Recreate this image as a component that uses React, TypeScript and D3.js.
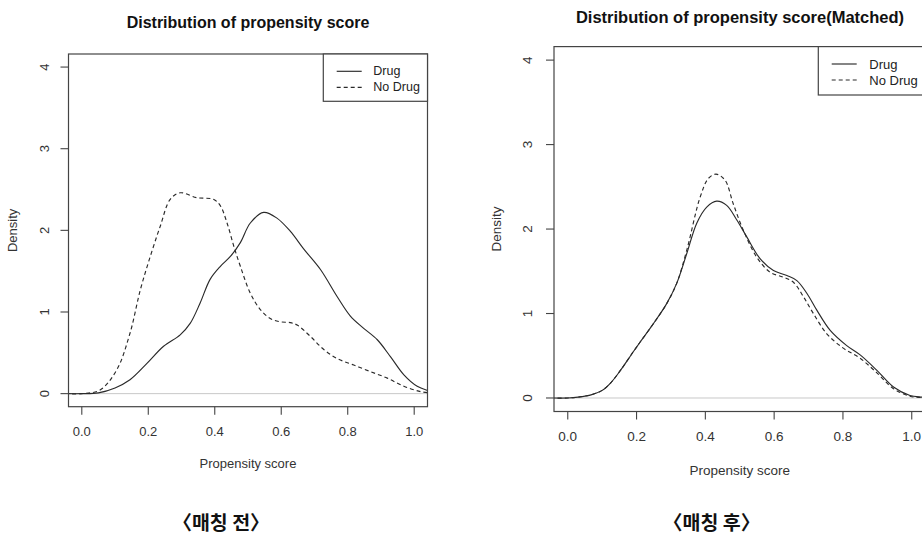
import React from "react";
import * as d3 from "d3";

// ---------- data ----------
const seriesNames = ["Drug", "No Drug"];
const xTicks = [0.0, 0.2, 0.4, 0.6, 0.8, 1.0];
const yTicks = [0, 1, 2, 3, 4];

// Before matching
const beforeDrugX = [-0.05, 0.0, 0.05, 0.10, 0.145, 0.196, 0.246, 0.296, 0.326, 0.356, 0.386, 0.417, 0.447, 0.477, 0.507, 0.547, 0.587, 0.627, 0.668, 0.718, 0.768, 0.808, 0.848, 0.889, 0.929, 0.969, 1.009, 1.04, 1.06];
const beforeDrugY = [0, 0.0, 0.01, 0.07, 0.17, 0.37, 0.58, 0.72, 0.86, 1.11, 1.40, 1.56, 1.68, 1.85, 2.09, 2.22, 2.15, 1.99, 1.77, 1.52, 1.19, 0.95, 0.80, 0.66, 0.45, 0.23, 0.09, 0.04, 0.02];
const beforeNoDrugX = [-0.05, 0.0, 0.055, 0.105, 0.145, 0.176, 0.206, 0.236, 0.266, 0.296, 0.346, 0.396, 0.417, 0.437, 0.457, 0.477, 0.507, 0.537, 0.567, 0.597, 0.627, 0.648, 0.688, 0.728, 0.768, 0.818, 0.868, 0.919, 0.969, 1.019, 1.06];
const beforeNoDrugY = [0, 0.0, 0.045, 0.29, 0.74, 1.27, 1.68, 2.05, 2.38, 2.46, 2.40, 2.38, 2.30, 2.09, 1.81, 1.56, 1.23, 1.03, 0.92, 0.88, 0.87, 0.84, 0.70, 0.54, 0.43, 0.35, 0.27, 0.19, 0.09, 0.025, 0.005];

// After matching
const afterDrugX = [-0.05, 0.0, 0.03, 0.07, 0.10, 0.125, 0.152, 0.191, 0.21, 0.249, 0.288, 0.317, 0.346, 0.375, 0.404, 0.433, 0.462, 0.491, 0.52, 0.559, 0.598, 0.637, 0.666, 0.695, 0.724, 0.763, 0.811, 0.85, 0.898, 0.947, 0.995, 1.03, 1.06];
const afterDrugY = [0, 0.0, 0.01, 0.04, 0.09, 0.18, 0.32, 0.55, 0.66, 0.88, 1.12, 1.36, 1.71, 2.07, 2.26, 2.33, 2.28, 2.11, 1.91, 1.65, 1.51, 1.45, 1.39, 1.24, 1.04, 0.80, 0.62, 0.51, 0.33, 0.13, 0.03, 0.01, 0];
const afterNoDrugX = [-0.05, 0.0, 0.03, 0.07, 0.10, 0.125, 0.152, 0.191, 0.21, 0.249, 0.288, 0.317, 0.346, 0.385, 0.409, 0.431, 0.457, 0.481, 0.51, 0.549, 0.588, 0.627, 0.656, 0.685, 0.714, 0.753, 0.801, 0.85, 0.898, 0.947, 0.995, 1.03, 1.06];
const afterNoDrugY = [0, 0.0, 0.01, 0.04, 0.09, 0.18, 0.32, 0.55, 0.66, 0.88, 1.12, 1.36, 1.75, 2.38, 2.60, 2.65, 2.58, 2.30, 1.99, 1.67, 1.49, 1.43, 1.37, 1.20, 1.00, 0.76, 0.59, 0.47, 0.30, 0.11, 0.02, 0.005, 0];

const titles = ["Distribution of propensity score", "Distribution of propensity score(Matched)"];
const captions = ["〈매칭 전〉", "〈매칭 후〉"];
const xLabel = "Propensity score";
const yLabel = "Density";

const xDomain: [number, number] = [-0.04, 1.04];
const yDomain: [number, number] = [-0.16, 4.16];

const FONT = "'Liberation Sans', Arial, Helvetica, sans-serif";
const INK = "#2a2a2a";
const AXIS = "#444";

type Layout = {
  id: string;
  left: number; top: number; right: number; bottom: number;
  fs: number; titleFs: number; legendFs: number;
  titleX: number; titleY: number;
  xLabY: number; yLabX: number; xTickLabY: number; yTickLabX: number;
  legLeft: number; legBottom: number; legLine0: number; legLine1: number; legText: number; legY0: number; legY1: number;
  capX: number; capY: number;
};

const layouts: Layout[] = [
  {
    id: "a", left: 68.5, top: 54, right: 427.5, bottom: 406.7,
    fs: 13, titleFs: 16, legendFs: 12.5,
    titleX: 248, titleY: 22, xLabY: 463, yLabX: 13, xTickLabY: 431.7, yTickLabX: 45,
    legLeft: 323.3, legBottom: 101.3, legLine0: 336.7, legLine1: 361.7, legText: 373.3, legY0: 71.3, legY1: 87.3,
    capX: 221, capY: 521,
  },
  {
    id: "b", left: 554, top: 46.6, right: 925.5, bottom: 411.5,
    fs: 13.5, titleFs: 16.5, legendFs: 13,
    titleX: 740, titleY: 16.7, xLabY: 470.7, yLabX: 496.7, xTickLabY: 436.7, yTickLabX: 528,
    legLeft: 818.3, legBottom: 95, legLine0: 831.7, legLine1: 856.7, legText: 869.3, legY0: 64, legY1: 80,
    capX: 711.7, capY: 521,
  },
];

const panelSeries = [
  [
    { xs: beforeDrugX, ys: beforeDrugY, dash: undefined as string | undefined },
    { xs: beforeNoDrugX, ys: beforeNoDrugY, dash: "4,3" },
  ],
  [
    { xs: afterDrugX, ys: afterDrugY, dash: undefined as string | undefined },
    { xs: afterNoDrugX, ys: afterNoDrugY, dash: "4,3" },
  ],
];

function Panel({ L, idx }: { L: Layout; idx: number }) {
  const x = d3.scaleLinear().domain(xDomain).range([L.left, L.right]);
  const y = d3.scaleLinear().domain(yDomain).range([L.bottom, L.top]);
  const line = d3
    .line<[number, number]>()
    .x((d) => x(d[0]))
    .y((d) => y(d[1]))
    .curve(d3.curveCatmullRom.alpha(0.5));
  const clipId = "clip-" + L.id;
  const tickLen = 8;
  return (
    <g>
      <defs>
        <clipPath id={clipId}>
          <rect x={L.left} y={L.top} width={L.right - L.left} height={L.bottom - L.top} />
        </clipPath>
      </defs>
      {/* title */}
      <text x={L.titleX} y={L.titleY} textAnchor="middle" dominantBaseline="central"
        fontFamily={FONT} fontWeight="bold" fontSize={L.titleFs} fill="#111">{titles[idx]}</text>
      {/* zero line */}
      <line x1={L.left} x2={L.right} y1={y(0)} y2={y(0)} stroke="#c8c8c8" strokeWidth={1} />
      {/* curves */}
      <g clipPath={`url(#${clipId})`}>
        {panelSeries[idx].map((s, i) => (
          <path key={i}
            d={line(s.xs.map((v, k) => [v, s.ys[k]] as [number, number])) || ""}
            fill="none" stroke={INK} strokeWidth={1.15} strokeDasharray={s.dash} />
        ))}
      </g>
      {/* box */}
      <rect x={L.left} y={L.top} width={L.right - L.left} height={L.bottom - L.top}
        fill="none" stroke={AXIS} strokeWidth={1.2} />
      {/* x axis */}
      {xTicks.map((t) => (
        <g key={"x" + t}>
          <line x1={x(t)} x2={x(t)} y1={L.bottom} y2={L.bottom + tickLen} stroke={AXIS} strokeWidth={1.1} />
          <text x={x(t)} y={L.xTickLabY} textAnchor="middle" dominantBaseline="central"
            fontFamily={FONT} fontSize={L.fs} fill="#333">{t.toFixed(1)}</text>
        </g>
      ))}
      {/* y axis */}
      {yTicks.map((t) => (
        <g key={"y" + t}>
          <line x1={L.left - tickLen} x2={L.left} y1={y(t)} y2={y(t)} stroke={AXIS} strokeWidth={1.1} />
          <text x={L.yTickLabX} y={y(t)} textAnchor="middle" dominantBaseline="central"
            transform={`rotate(-90, ${L.yTickLabX}, ${y(t)})`}
            fontFamily={FONT} fontSize={L.fs} fill="#333">{String(t)}</text>
        </g>
      ))}
      {/* axis labels */}
      <text x={(L.left + L.right) / 2} y={L.xLabY} textAnchor="middle" dominantBaseline="central"
        fontFamily={FONT} fontSize={L.fs} fill="#333">{xLabel}</text>
      <text x={L.yLabX} y={(L.top + L.bottom) / 2} textAnchor="middle" dominantBaseline="central"
        transform={`rotate(-90, ${L.yLabX}, ${(L.top + L.bottom) / 2})`}
        fontFamily={FONT} fontSize={L.fs} fill="#333">{yLabel}</text>
      {/* legend */}
      <rect x={L.legLeft} y={L.top} width={L.right - L.legLeft} height={L.legBottom - L.top}
        fill="#fff" stroke={AXIS} strokeWidth={1.2} />
      {seriesNames.map((nm, i) => {
        const yy = i === 0 ? L.legY0 : L.legY1;
        return (
          <g key={nm}>
            <line x1={L.legLine0} x2={L.legLine1} y1={yy} y2={yy} stroke={INK} strokeWidth={1.15}
              strokeDasharray={panelSeries[idx][i].dash} />
            <text x={L.legText} y={yy} dominantBaseline="central" fontFamily={FONT}
              fontSize={L.legendFs} fill="#222">{nm}</text>
          </g>
        );
      })}
      {/* caption */}
      <text x={L.capX} y={L.capY} textAnchor="middle" dominantBaseline="central"
        fontFamily="'Noto Sans CJK KR', 'Noto Sans CJK SC', sans-serif" fontWeight="bold"
        fontSize={19.5} fill="#111">{captions[idx]}</text>
    </g>
  );
}

export default function App() {
  return (
    <svg width={922} height={535} viewBox="0 0 922 535"
      style={{ position: "absolute", left: 0, top: 0, display: "block", background: "#fff" }}>
      <rect x={0} y={0} width={922} height={535} fill="#fff" />
      {layouts.map((L, i) => (
        <Panel key={L.id} L={L} idx={i} />
      ))}
    </svg>
  );
}
